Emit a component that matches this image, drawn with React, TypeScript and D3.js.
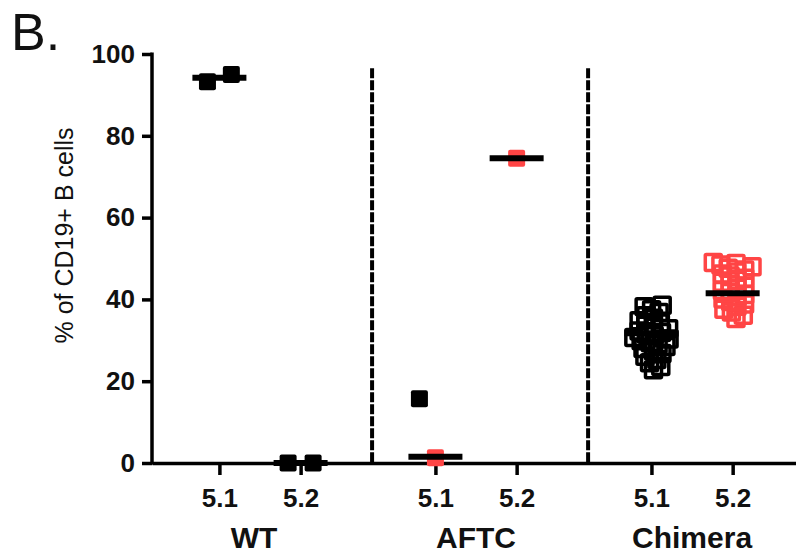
import * as d3 from "d3";
import { useEffect, useRef } from "react";

const groups = ["WT", "AFTC", "Chimera"];
const stains = ["5.1", "5.2"];
const yTicks = [0, 20, 40, 60, 80, 100];

// values (% of CD19+ B cells)
const wt51 = [93.2, 95.0];
const wt52 = [0, 0];
const aftc51Black = [15.7];
const aftc51Red = [1.3];
const aftc52Red = [74.5];
const chim51 = [38.6, 38.2, 37.5, 36.8, 36.0, 35.4, 34.8, 34.2, 33.7, 33.2, 32.8, 32.3, 31.9, 31.5, 31.1,
  30.7, 30.3, 29.9, 29.4, 29.0, 28.5, 28.0, 27.4, 26.8, 26.1, 25.3, 24.5, 23.6, 22.8];
const chim52 = [49.0, 48.8, 48.4, 48.0, 47.6, 47.2, 46.7, 46.2, 45.7, 45.2, 44.7, 44.2, 43.7, 43.2, 42.7,
  42.2, 41.7, 41.2, 40.7, 40.1, 39.5, 38.9, 38.3, 37.6, 36.9, 36.1, 35.3];
// horizontal centre line of each column: WT 5.1, WT 5.2, AFTC 5.1, AFTC 5.2, Chimera 5.1, Chimera 5.2
const centreLines = [94.2, 0, 1.5, 74.5, 31.7, 41.5];

const RED = "#ff4545";
const FONT = "'Liberation Sans', Arial, sans-serif";

function swarm(values: number[], y: (v: number) => number, r: number) {
  const pts = values.map(v => ({ v, py: y(v), dx: 0 })).sort((a, b) => a.v - b.v);
  const placed: { v: number; py: number; dx: number }[] = [];
  for (const p of pts) {
    const cands = [0];
    for (const q of placed) {
      const dy = p.py - q.py;
      if (Math.abs(dy) < r) {
        const h = Math.sqrt(r * r - dy * dy);
        cands.push(q.dx + h, q.dx - h);
      }
    }
    cands.sort((a, b) => Math.abs(a) - Math.abs(b));
    for (const c of cands) {
      if (placed.every(q => (q.dx - c) ** 2 + (q.py - p.py) ** 2 >= r * r - 0.01)) {
        p.dx = c;
        break;
      }
    }
    placed.push(p);
  }
  const lo = d3.min(placed, d => d.dx) ?? 0;
  const hi = d3.max(placed, d => d.dx) ?? 0;
  placed.forEach(p => (p.dx -= (lo + hi) / 2));
  return placed;
}

export default function App() {
  const ref = useRef<SVGSVGElement>(null);

  useEffect(() => {
    document.body.style.margin = "0";
    const svg = d3.select(ref.current);
    svg.selectAll("*").remove();

    const width = 796;
    const height = 554;
    const margin = { top: 54, left: 152, bottom: 91 };
    const gap = 2.66;

    const columns = [
      { g: 0, s: 0, r: 25, sets: [{ values: wt51, color: "black", open: false, dodge: 0 }] },
      { g: 0, s: 1, r: 25, sets: [{ values: wt52, color: "black", open: false, dodge: 0 }] },
      { g: 1, s: 0, r: 25, sets: [
        { values: aftc51Black, color: "black", open: false, dodge: -16 },
        { values: aftc51Red, color: RED, open: false, dodge: 0 }] },
      { g: 1, s: 1, r: 25, sets: [{ values: aftc52Red, color: RED, open: false, dodge: 0 }] },
      { g: 2, s: 0, r: 8, sets: [{ values: chim51, color: "black", open: true, dodge: 0 }] },
      { g: 2, s: 1, r: 8, sets: [{ values: chim52, color: RED, open: true, dodge: 0 }] },
    ];
    const pos = (g: number, s: number) => g * gap + s;

    const x = d3.scaleLinear().domain([-0.83, 7.1]).range([margin.left, width]);
    const y = d3.scaleLinear().domain([0, 100]).range([height - margin.bottom, margin.top]);
    const y0 = y(0);

    // y axis
    const yAxis = svg.append("g")
      .attr("transform", `translate(${margin.left},0)`)
      .call(d3.axisLeft(y).tickValues(yTicks).tickSize(10).tickSizeOuter(0).tickPadding(7));
    yAxis.select(".domain").attr("stroke-width", 3.5).attr("d", `M0,${y0 + 1.5}V${margin.top - 1.5}`);
    yAxis.selectAll(".tick line").attr("stroke-width", 3.5);
    yAxis.selectAll(".tick text")
      .attr("font-family", FONT).attr("font-size", 26).attr("font-weight", "bold").attr("fill", "#111");

    // x axis
    const xAxis = svg.append("g")
      .attr("transform", `translate(0,${y0})`)
      .call(d3.axisBottom(x)
        .tickValues(columns.map(c => pos(c.g, c.s)))
        .tickFormat((_, i) => stains[columns[i].s])
        .tickSize(12).tickSizeOuter(0).tickPadding(14));
    xAxis.select(".domain").attr("stroke-width", 3.5);
    xAxis.selectAll(".tick line").attr("stroke-width", 3.5);
    xAxis.selectAll(".tick text")
      .attr("font-family", FONT).attr("font-size", 26).attr("font-weight", "bold").attr("fill", "#111");

    // group labels
    svg.append("g")
      .selectAll("text")
      .data(groups)
      .join("text")
      .attr("x", (_, g) => x(pos(g, 0.5)) - (g === 0 ? 6 : 0))
      .attr("y", y0 + 85)
      .attr("text-anchor", "middle")
      .attr("font-family", FONT).attr("font-size", 30).attr("font-weight", "bold").attr("fill", "#111")
      .text(d => d);

    // dashed separators
    svg.append("g")
      .selectAll("line")
      .data([0, 1])
      .join("line")
      .attr("x1", g => x(pos(g, 1) + 0.88))
      .attr("x2", g => x(pos(g, 1) + 0.88))
      .attr("y1", y(96.5))
      .attr("y2", y0)
      .attr("stroke", "black")
      .attr("stroke-width", 4)
      .attr("stroke-dasharray", "10,2");

    // points
    const filled = 17;
    const openSz = 16;
    columns.forEach(c => {
      const cx = x(pos(c.g, c.s));
      c.sets.forEach(set => {
        const pts = swarm(set.values, y, c.r);
        svg.append("g")
          .selectAll("rect")
          .data(pts)
          .join("rect")
          .attr("x", d => cx + set.dodge + d.dx - (set.open ? openSz : filled) / 2)
          .attr("y", d => d.py - (set.open ? openSz : filled) / 2)
          .attr("width", set.open ? openSz : filled)
          .attr("height", set.open ? openSz : filled)
          .attr("rx", set.open ? 1 : 2)
          .attr("fill", set.open ? "none" : set.color)
          .attr("stroke", set.open ? set.color : "none")
          .attr("stroke-width", 3.5);
      });
    });

    // centre lines
    svg.append("g")
      .selectAll("line")
      .data(columns)
      .join("line")
      .attr("x1", (c) => x(pos(c.g, c.s)) - 27)
      .attr("x2", (c) => x(pos(c.g, c.s)) + 27)
      .attr("y1", (_, i) => y(centreLines[i]))
      .attr("y2", (_, i) => y(centreLines[i]))
      .attr("stroke", "black")
      .attr("stroke-width", 6);

    // y label
    svg.append("text")
      .attr("transform", `translate(73,${(y0 + margin.top) / 2 - 23}) rotate(-90)`)
      .attr("text-anchor", "middle")
      .attr("font-family", FONT).attr("font-size", 25).attr("fill", "#111")
      .text("% of CD19+ B cells");

    // panel letter
    svg.append("text")
      .attr("x", 11).attr("y", 50)
      .attr("font-family", FONT).attr("font-size", 52).attr("fill", "#111")
      .text("B.");
  }, []);

  return <svg ref={ref} width={796} height={554} style={{ display: "block", background: "white" }} />;
}
